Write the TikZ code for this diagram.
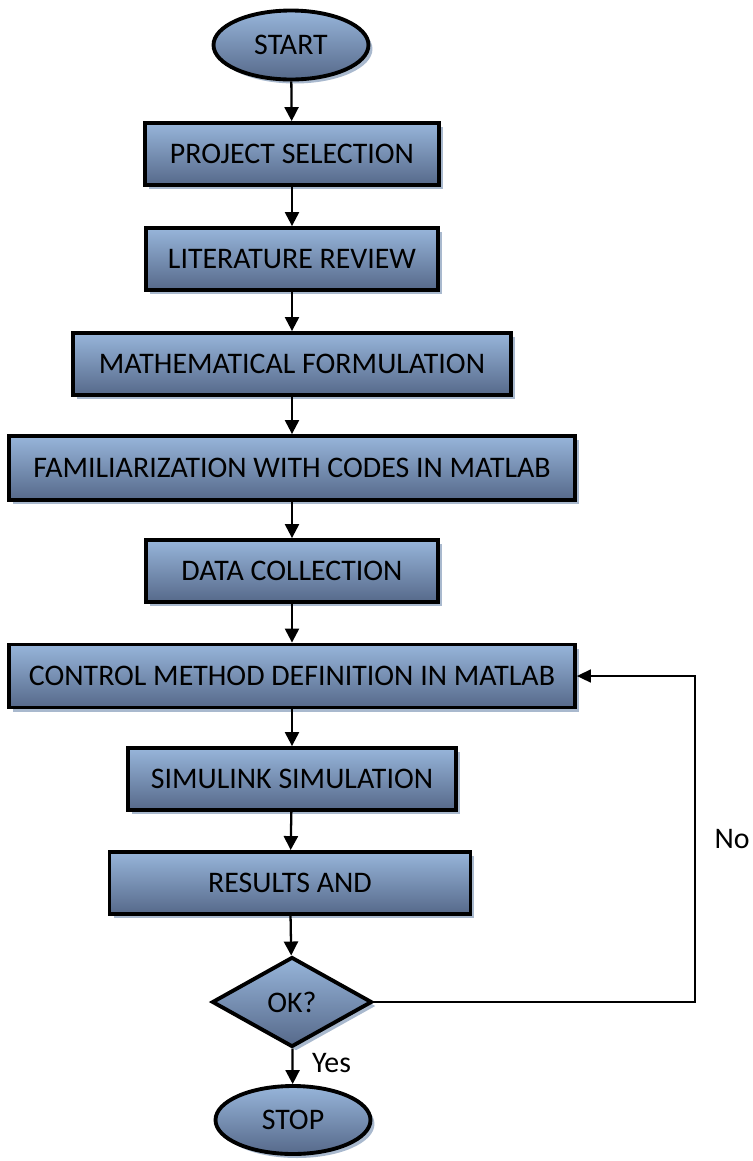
\documentclass[tikz,border=0pt]{standalone}
\usepackage{fontspec}
\setmainfont{Carlito}
\usetikzlibrary{shapes}
\usetikzlibrary{shapes.geometric}
\usetikzlibrary{shadows}
\usetikzlibrary{arrows.meta}
\usetikzlibrary{positioning}

\definecolor{boxtop}{HTML}{97B5DA}
\definecolor{boxbot}{HTML}{56698A}
\definecolor{shadowc}{HTML}{A9B9CE}

\begin{document}
\begin{tikzpicture}[
    x=0.02cm, y=-0.02cm,
    font=\fontsize{17}{20}\selectfont
]
\tikzset{
    flowshade/.style = {draw=black, line width=2.2pt, top color=boxtop, bottom color=boxbot, align=center,
        drop shadow={shadow xshift=0.08cm, shadow yshift=-0.08cm, fill=shadowc, opacity=1}},
    process/.style = {flowshade, rectangle, minimum height=1.24cm, inner sep=0pt},
    terminal/.style = {flowshade, ellipse, minimum width=3.1cm, minimum height=1.38cm, inner sep=0pt},
    decision/.style = {flowshade, diamond, minimum width=3.2cm, minimum height=1.8cm, inner sep=0pt},
    flowarrow/.style = {-{Triangle[length=0.28cm,width=0.28cm]}, line width=1.3pt},
    backarrow/.style = {-{Triangle[length=0.28cm,width=0.26cm]}, line width=0.9pt}
}
\useasboundingbox (0,0) rectangle (753,1161);
\node[terminal] at (291,45) (start) {START};
\node[process, minimum width=5.88cm] at (292,154) (select) {PROJECT SELECTION};
\node[process, minimum width=5.84cm] at (292,259) (review) {LITERATURE REVIEW};
\node[process, minimum width=8.76cm] at (292,364) (formul) {MATHEMATICAL FORMULATION};
\node[process, minimum width=11.32cm, minimum height=1.28cm] at (292,468) (famil) {FAMILIARIZATION WITH CODES IN MATLAB};
\node[process, minimum width=5.84cm] at (292,571) (data) {DATA COLLECTION};
\node[process, minimum width=11.32cm, minimum height=1.26cm] at (292,676) (control) {CONTROL METHOD DEFINITION IN MATLAB};
\node[process, minimum width=6.56cm] at (292,779) (simul) {SIMULINK SIMULATION};
\node[process, minimum width=7.22cm] at (290,883) (results) {RESULTS AND};
\node[decision] at (292,1002) (ok) {OK?};
\node[terminal, minimum height=1.36cm] at (293,1120) (stop) {STOP};
\coordinate (loop) at (695,1002);
\draw[flowarrow] (start) -- (select);
\draw[flowarrow] (select) -- (review);
\draw[flowarrow] (review) -- (formul);
\draw[flowarrow] (formul) -- (famil);
\draw[flowarrow] (famil) -- (data);
\draw[flowarrow] (data) -- (control);
\draw[flowarrow] (control) -- (simul);
\draw[flowarrow] (simul) -- (results);
\draw[flowarrow] (results) -- (ok);
\draw[flowarrow] (ok) -- node[right=0.25cm, pos=0.4] {Yes} (stop);
\draw[backarrow] (ok.east) -- (loop) |- node[pos=0.25, right=0.26cm] {No} (control.east);
\end{tikzpicture}
\end{document}
